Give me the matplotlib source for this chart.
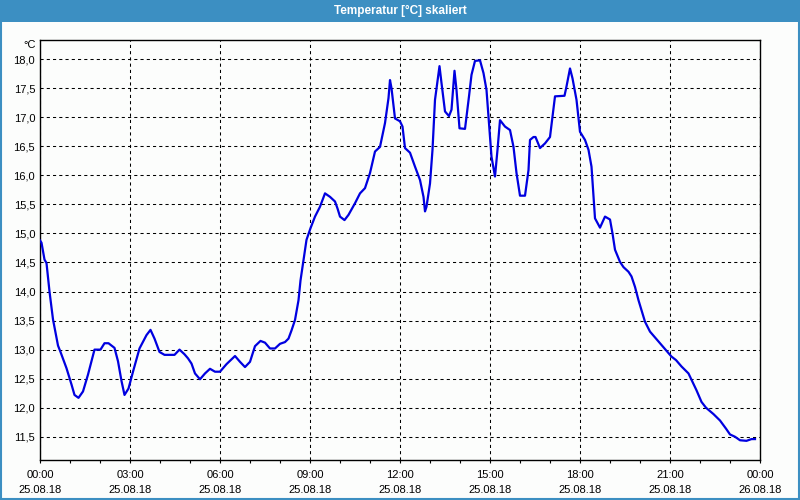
import matplotlib
matplotlib.use("Agg")
import matplotlib.pyplot as plt
from matplotlib.patches import Rectangle

plt.rcParams["font.family"] = ["Liberation Sans", "DejaVu Sans"]

# minutes after 25.08.18 00:00 and temperature in degC
minutes = [0, 3, 9, 13, 19, 26, 36, 41, 53, 63, 69, 77, 86, 96, 109, 121, 129, 137, 149,
           156, 163, 169, 177, 186, 199, 213, 221, 229, 239, 249, 269, 279, 289, 296, 303,
           310, 320, 330, 340, 350, 360, 373, 390, 400, 410, 420, 430, 441, 450, 460, 470,
           480, 490, 497, 503, 510, 517, 521, 527, 533, 541, 550, 560, 570, 580, 590, 595,
           600, 609, 617, 630, 640, 650, 660, 670, 680, 690, 697, 700, 703, 710, 720, 725,
           730, 740, 750, 760, 767, 770, 773, 780, 785, 790, 799, 803, 810, 818, 823, 829,
           833, 839, 850, 858, 863, 870, 880, 887, 893, 898, 903, 910, 915, 920, 930, 940,
           947, 953, 960, 970, 977, 980, 987, 991, 1000, 1010, 1020, 1030, 1049, 1053, 1060,
           1065, 1073, 1080, 1090, 1097, 1103, 1107, 1110, 1120, 1130, 1140, 1145, 1150,
           1160, 1167, 1177, 1183, 1190, 1197, 1203, 1210, 1220, 1233, 1243, 1253, 1263,
           1272, 1283, 1297, 1303, 1313, 1323, 1332, 1347, 1360, 1372, 1380, 1390, 1400,
           1413, 1423, 1430]
temps = [14.88, 14.84, 14.55, 14.49, 14.0, 13.52, 13.07, 12.96, 12.68, 12.40, 12.22, 12.17,
         12.28, 12.57, 13.0, 13.0, 13.11, 13.11, 13.03, 12.80, 12.46, 12.22, 12.33, 12.62,
         13.02, 13.25, 13.34, 13.19, 12.96, 12.91, 12.91, 13.0, 12.92, 12.85, 12.76, 12.59,
         12.49, 12.59, 12.67, 12.62, 12.62, 12.75, 12.89, 12.79, 12.70, 12.79, 13.06, 13.15,
         13.12, 13.02, 13.02, 13.10, 13.13, 13.19, 13.33, 13.51, 13.85, 14.19, 14.54, 14.89,
         15.09, 15.29, 15.46, 15.69, 15.63, 15.55, 15.43, 15.29, 15.23, 15.32, 15.52, 15.69,
         15.78, 16.04, 16.41, 16.49, 16.90, 17.33, 17.64, 17.50, 16.98, 16.93, 16.84, 16.47,
         16.39, 16.15, 15.92, 15.63, 15.38, 15.46, 15.86, 16.44, 17.30, 17.88, 17.59, 17.10,
         17.02, 17.13, 17.80, 17.47, 16.81, 16.80, 17.36, 17.73, 17.97, 17.98, 17.76, 17.47,
         16.90, 16.32, 15.98, 16.44, 16.95, 16.84, 16.78, 16.49, 16.04, 15.65, 15.65, 16.09,
         16.61, 16.66, 16.66, 16.47, 16.55, 16.66, 17.36, 17.37, 17.53, 17.84, 17.67, 17.30,
         16.75, 16.61, 16.44, 16.15, 15.63, 15.26, 15.10, 15.29, 15.24, 15.00, 14.72, 14.51,
         14.42, 14.34, 14.26, 14.08, 13.85, 13.68, 13.48, 13.31, 13.18, 13.08, 12.98, 12.88,
         12.82, 12.71, 12.59, 12.48, 12.30, 12.10, 12.00, 11.89, 11.78, 11.64, 11.54, 11.50,
         11.44, 11.43, 11.46, 11.46]

xTickHours = [0, 3, 6, 9, 12, 15, 18, 21, 24]
xTickLabels = ["00:00\n25.08.18", "03:00\n25.08.18", "06:00\n25.08.18", "09:00\n25.08.18",
               "12:00\n25.08.18", "15:00\n25.08.18", "18:00\n25.08.18", "21:00\n25.08.18",
               "00:00\n26.08.18"]
yTicks = [11.5, 12.0, 12.5, 13.0, 13.5, 14.0, 14.5, 15.0, 15.5, 16.0, 16.5, 17.0, 17.5, 18.0]
yTickLabels = [f"{v:.1f}".replace(".", ",") for v in yTicks]
title = "Temperatur [°C] skaliert"
unit = "°C"

bg = "#fcfdfc"
frameBlue = "#3c8fc2"

fig = plt.figure(figsize=(8, 5), dpi=100, facecolor=bg)
ax = fig.add_axes([0.05, 0.08, 0.90, 0.84], facecolor=bg)

hours = [m / 60 for m in minutes]
ax.plot(hours, temps, color="#0000e0", linewidth=1.6, zorder=3)

ax.set_xlim(0, 24)
ax.set_ylim(11.1, 18.33)
ax.set_xticks(xTickHours)
ax.set_xticklabels(xTickLabels, fontsize=8, linespacing=1.55)
ax.set_xticks(range(0, 25), minor=True)
ax.set_yticks(yTicks)
ax.set_yticklabels(yTickLabels, fontsize=8)
ax.tick_params(axis="x", which="both", direction="out", length=2.5, width=0.8, pad=5)
ax.tick_params(axis="y", length=0, pad=3.5)
ax.grid(True, which="major", color="black", linewidth=0.75, linestyle=(0, (3, 3)))
for s in ax.spines.values():
    s.set_linewidth(1.0)
    s.set_color("black")

ax.text(-0.006, 0.988, unit, transform=ax.transAxes, ha="right", va="center", fontsize=8)

# title bar and window frame
fig.patches.append(Rectangle((0, 0.956), 1, 0.044, transform=fig.transFigure,
                             facecolor=frameBlue, edgecolor="none", zorder=0))
fig.patches.append(Rectangle((0.001, 0.002), 0.998, 0.996, transform=fig.transFigure,
                             facecolor="none", edgecolor=frameBlue, linewidth=1.5))
fig.text(0.5, 0.978, title, ha="center", va="center", color="white",
         fontsize=8.5, fontweight="bold")

fig.savefig("out.png", dpi=100, facecolor=bg)
